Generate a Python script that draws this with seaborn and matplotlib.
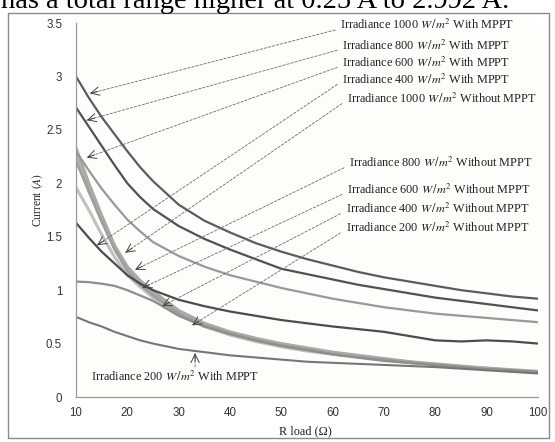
import matplotlib
matplotlib.use("Agg")
import matplotlib.pyplot as plt
import seaborn as sns
import numpy as np
import pandas as pd
from matplotlib.patches import Rectangle

# ---------------- data ----------------
R_load = [10, 12.5, 15, 17.5, 20, 22.5, 25, 30, 35, 40, 45, 50, 55, 60, 65, 70, 75, 80, 85, 90, 95, 100]

with_1000 = [3.00, 2.80, 2.62, 2.46, 2.30, 2.15, 2.02, 1.80, 1.65, 1.54, 1.44, 1.36, 1.29, 1.23, 1.17, 1.12, 1.08, 1.04, 1.00, 0.97, 0.94, 0.92]
with_800  = [2.71, 2.53, 2.35, 2.17, 2.00, 1.87, 1.76, 1.60, 1.48, 1.38, 1.29, 1.20, 1.15, 1.10, 1.05, 1.01, 0.97, 0.93, 0.90, 0.87, 0.84, 0.81]
with_600  = [2.30, 2.12, 1.95, 1.80, 1.66, 1.55, 1.45, 1.32, 1.22, 1.14, 1.08, 1.02, 0.97, 0.92, 0.88, 0.84, 0.81, 0.78, 0.76, 0.74, 0.72, 0.70]
with_400  = [1.63, 1.49, 1.36, 1.25, 1.14, 1.06, 1.00, 0.91, 0.85, 0.80, 0.76, 0.72, 0.69, 0.66, 0.635, 0.61, 0.57, 0.53, 0.52, 0.53, 0.52, 0.50]
with_200  = [0.75, 0.70, 0.66, 0.61, 0.57, 0.53, 0.50, 0.45, 0.42, 0.39, 0.37, 0.35, 0.33, 0.32, 0.31, 0.30, 0.29, 0.28, 0.265, 0.25, 0.235, 0.22]

wo_1000 = [2.33, 2.00, 1.70, 1.42, 1.22, 1.09, 0.99, 0.81, 0.69, 0.61, 0.55, 0.50, 0.46, 0.42, 0.39, 0.36, 0.33, 0.31, 0.29, 0.27, 0.255, 0.24]
wo_800  = [2.28, 1.97, 1.68, 1.40, 1.20, 1.07, 0.97, 0.80, 0.68, 0.60, 0.54, 0.49, 0.45, 0.41, 0.38, 0.35, 0.33, 0.30, 0.28, 0.27, 0.25, 0.235]
wo_600  = [2.21, 1.92, 1.64, 1.38, 1.18, 1.05, 0.95, 0.78, 0.67, 0.59, 0.53, 0.48, 0.44, 0.40, 0.37, 0.35, 0.32, 0.30, 0.28, 0.26, 0.25, 0.23]
wo_400  = [1.96, 1.75, 1.52, 1.31, 1.14, 1.03, 0.93, 0.77, 0.66, 0.58, 0.52, 0.47, 0.43, 0.40, 0.37, 0.34, 0.32, 0.30, 0.28, 0.26, 0.245, 0.23]
wo_200  = [1.08, 1.075, 1.06, 1.04, 1.00, 0.95, 0.90, 0.76, 0.66, 0.59, 0.53, 0.48, 0.44, 0.40, 0.37, 0.34, 0.32, 0.30, 0.28, 0.26, 0.25, 0.235]

x_ticks = [10, 20, 30, 40, 50, 60, 70, 80, 90, 100]
y_ticks = [0, 0.5, 1, 1.5, 2, 2.5, 3, 3.5]
y_tick_labels = ["0", "0.5", "1", "1.5", "2", "2.5", "3", "3.5"]

# label text, text position (R, I), arrow head (R, I)
labels = [
    ("Irradiance 1000 $W\\,/m^2$ With MPPT",    (61.5, 3.48), (12.7, 2.84)),
    ("Irradiance 800 $W\\,/m^2$ With MPPT",     (61.9, 3.29), (12.1, 2.59)),
    ("Irradiance 600 $W\\,/m^2$ With MPPT",     (61.9, 3.13), (12.1, 2.24)),
    ("Irradiance 400 $W\\,/m^2$ With MPPT",     (61.9, 2.97), (14.1, 1.42)),
    ("Irradiance 1000 $W\\,/m^2$ Without MPPT", (62.8, 2.79), (19.6, 1.35)),
    ("Irradiance 800 $W\\,/m^2$ Without MPPT",  (63.2, 2.19), (21.5, 1.19)),
    ("Irradiance 600 $W\\,/m^2$ Without MPPT",  (62.8, 1.94), (22.9, 1.02)),
    ("Irradiance 400 $W\\,/m^2$ Without MPPT",  (62.5, 1.76), (26.8, 0.85)),
    ("Irradiance 200 $W\\,/m^2$ Without MPPT",  (62.5, 1.58), (32.6, 0.67)),
]
bottom_label = ("Irradiance 200 $W\\,/m^2$ With MPPT", (13.0, 0.19), (33.2, 0.28), (33.2, 0.41))

# ---------------- style ----------------
sns.set_theme(style="white")
plt.rcParams["font.family"] = ["Liberation Serif", "DejaVu Serif"]
plt.rcParams["mathtext.fontset"] = "stix"

fig = plt.figure(figsize=(5.55, 4.42), dpi=100)
fig.patch.set_facecolor("white")
ax = fig.add_axes([76 / 555, 1 - 397 / 442, (538 - 76) / 555, (397 - 23) / 442])
ax.set_facecolor("#fdfdf9")

series = [
    (wo_400, "#c0c0c0", 2.2),
    (wo_800, "#b4b4b4", 2.2),
    (wo_1000, "#a9a9a9", 2.2),
    (wo_600, "#9d9d9d", 1.8),
    (wo_200, "#8e8e8e", 1.6),
    (with_200, "#767676", 1.5),
    (with_600, "#999999", 1.6),
    (with_400, "#4c4c4c", 1.6),
    (with_800, "#515151", 1.6),
    (with_1000, "#5c5c5c", 1.6),
]
for vals, col, lw in series:
    df = pd.DataFrame({"R": R_load, "I": vals})
    sns.lineplot(data=df, x="R", y="I", ax=ax, color=col, lw=lw, legend=False)

ax.set_xlim(10, 100)
ax.set_ylim(0, 3.5)
ax.set_xticks(x_ticks)
ax.set_xticklabels([str(t) for t in x_ticks], family="Liberation Sans")
ax.set_yticks(y_ticks)
ax.set_yticklabels(y_tick_labels, family="Liberation Sans")
ax.tick_params(axis="both", length=0, labelsize=8.3, colors="#333333")
ax.tick_params(axis="y", pad=10)
ax.tick_params(axis="x", pad=7)
ax.set_xlabel("")
ax.set_ylabel("")
for s in ["top", "right"]:
    ax.spines[s].set_visible(False)
for s in ["left", "bottom"]:
    ax.spines[s].set_color("#9a9a9a")
    ax.spines[s].set_linewidth(0.9)

# ---------------- annotations ----------------
def to_disp(p):
    return ax.transData.transform(p)

def from_disp(p):
    return ax.transData.inverted().transform(p)

def dashed_arrow(tail, head):
    ax.annotate("", xy=head, xytext=tail,
                arrowprops=dict(arrowstyle="-", color="#6a6a6a", lw=0.6,
                                linestyle=(0, (3, 2)), shrinkA=0, shrinkB=0))
    t = to_disp(tail)
    h = to_disp(head)
    d = t - h
    d = d / np.hypot(*d)
    start = from_disp(h + d * 8)
    ax.annotate("", xy=head, xytext=start,
                arrowprops=dict(arrowstyle="->,head_length=0.5,head_width=0.25",
                                color="#444444", lw=0.7, shrinkA=0, shrinkB=0))

for text, pos, head in labels:
    ax.text(pos[0], pos[1], text, fontsize=8.8, color="#222222", ha="left", va="center")
    tail = (pos[0] - 1.0, pos[1] - 0.045)
    dashed_arrow(tail, head)

bt, bpos, btail, bhead = bottom_label
ax.text(bpos[0], bpos[1], bt, fontsize=8.8, color="#222222", ha="left", va="center")
dashed_arrow(btail, bhead)

# ---------------- axis titles ----------------
fig.text(38 / 555, 1 - 200 / 442, "Current $(A)$", rotation=90, ha="center", va="center",
         fontsize=8.3, color="#222222")
fig.text(305 / 555, 1 - 431 / 442, "R load (\u03a9)", ha="center", va="center",
         fontsize=8.8, color="#222222")

# outer chart border
fig.patches.append(Rectangle((8 / 555, 1 - 438 / 442), (549 - 8) / 555, (438 - 13) / 442,
                             transform=fig.transFigure, fill=False, edgecolor="#8a8a8a",
                             lw=1.0, zorder=0))

# cut-off sentence at the top of the page scan
fig.text(0.002, 1 - 8 / 442, "has a total range higher at 0.25 A to 2.992 A.",
         ha="left", va="baseline", fontsize=20.5, color="black")

fig.savefig("out.png", dpi=100)
